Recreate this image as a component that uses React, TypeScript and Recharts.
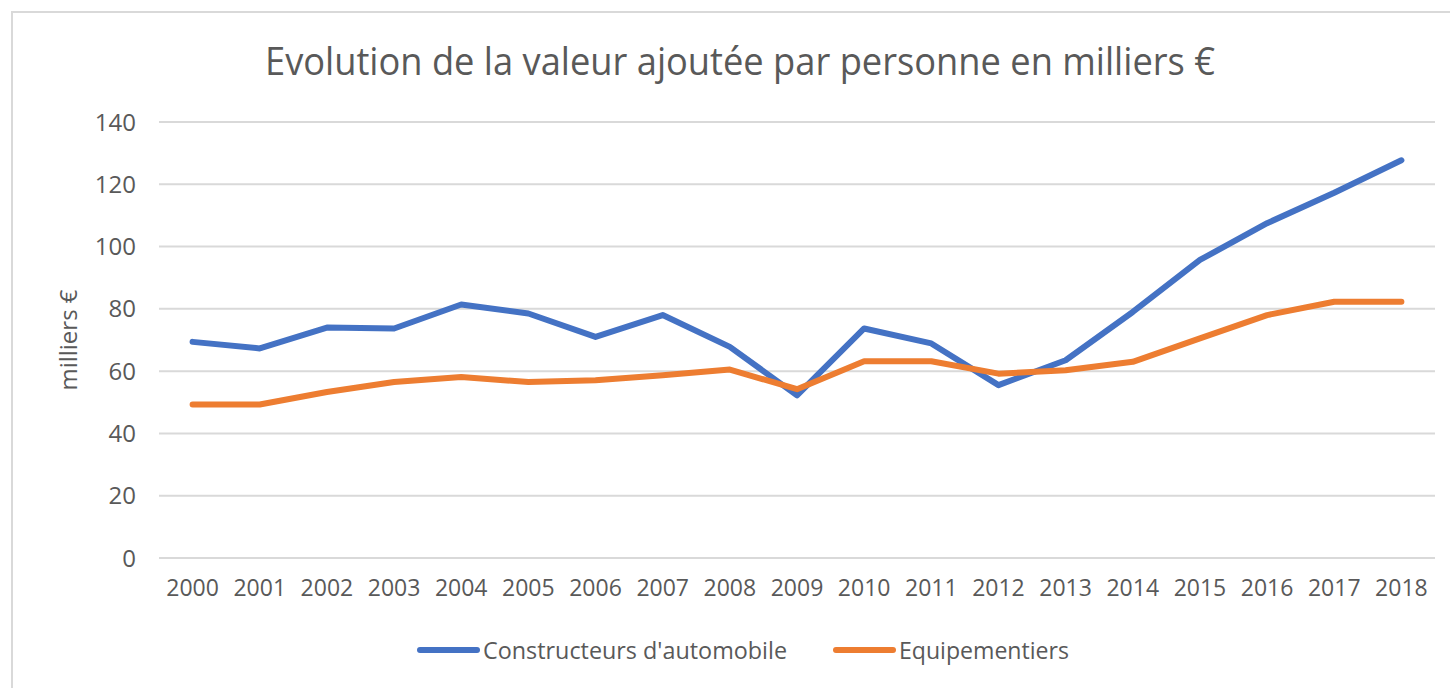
import React from 'react'
import {
  LineChart,
  Line,
  XAxis,
  YAxis,
  CartesianGrid,
  Legend,
} from 'recharts'

const years = [
  '2000', '2001', '2002', '2003', '2004', '2005', '2006', '2007', '2008', '2009',
  '2010', '2011', '2012', '2013', '2014', '2015', '2016', '2017', '2018',
]
// valeur ajoutée par personne, milliers €
const constructeurs = [
  69.4, 67.3, 74.0, 73.7, 81.4, 78.5, 71.0, 78.0, 67.8, 52.2,
  73.7, 68.9, 55.5, 63.5, 79.0, 95.7, 107.5, 117.3, 127.7,
]
const equipementiers = [
  49.3, 49.3, 53.3, 56.5, 58.1, 56.5, 57.1, 58.7, 60.5, 54.2,
  63.2, 63.2, 59.2, 60.3, 63.0, 70.5, 78.0, 82.3, 82.3,
]
const yTicks = [0, 20, 40, 60, 80, 100, 120, 140]

const seriesNames = ["Constructeurs d'automobile", 'Equipementiers']
const seriesColors = ['#4472C4', '#ED7D31']

const data = years.map((year, i) => ({
  year,
  constructeurs: constructeurs[i],
  equipementiers: equipementiers[i],
}))

const FONT = '"Open Sans", sans-serif'
const TEXT = '#595959'

// legend drawn by hand so it looks like the Excel one
function renderLegend(props: any) {
  const payload = props.payload || []
  const textWidths = [304, 170]
  return (
    <svg width={1450} height={40} style={{ display: 'block' }}>
      {payload.map((entry: any, i: number) => {
        const x0 = 417 + i * 416
        return (
          <g key={entry.value}>
            <line
              x1={x0 + 3}
              x2={x0 + 60}
              y1={20}
              y2={20}
              stroke={entry.color}
              strokeWidth={6}
              strokeLinecap="round"
            />
            <text
              x={x0 + 66}
              y={29}
              fontFamily={FONT}
              fontSize={24}
              fill={TEXT}
              textLength={textWidths[i]}
              lengthAdjust="spacingAndGlyphs"
            >
              {entry.value}
            </text>
          </g>
        )
      })}
    </svg>
  )
}

export default function App() {
  return (
    <div
      style={{
        position: 'absolute',
        left: 0,
        top: 0,
        width: 1450,
        height: 688,
        background: '#fff',
        overflow: 'hidden',
      }}
    >
      {/* chart frame, right and bottom edges fall off the picture */}
      <div
        style={{
          position: 'absolute',
          left: 11,
          top: 11,
          width: 1460,
          height: 700,
          border: '2px solid #d9d9d9',
          boxSizing: 'border-box',
        }}
      />
      <svg
        width={1450}
        height={688}
        style={{ position: 'absolute', left: 0, top: 0, pointerEvents: 'none' }}
      >
        <text
          x={265}
          y={75}
          fontFamily={FONT}
          fontSize={38}
          fill={TEXT}
          textLength={950}
          lengthAdjust="spacingAndGlyphs"
        >
          Evolution de la valeur ajoutée par personne en milliers €
        </text>
        <text
          x={77}
          y={340}
          transform="rotate(-90 77 340)"
          textAnchor="middle"
          fontFamily={FONT}
          fontSize={24}
          fill={TEXT}
        >
          milliers €
        </text>
      </svg>
      <div style={{ position: 'absolute', left: 0, top: 0 }}>
        <LineChart
          width={1450}
          height={688}
          data={data}
          // the legend still reserves ~31px under the plot, so bottom is trimmed
          margin={{ top: 122, right: 15, bottom: 100, left: 99 }}
        >
          <CartesianGrid vertical={false} stroke="#d9d9d9" strokeWidth={2} />
          <XAxis
            dataKey="year"
            axisLine={false}
            tickLine={false}
            tickMargin={16}
            interval={0}
            padding={{ left: 33.6, right: 33.6 }}
            tick={{ fill: TEXT, fontSize: 23, fontFamily: FONT }}
          />
          <YAxis
            width={60}
            domain={[0, 140]}
            ticks={yTicks}
            axisLine={false}
            tickLine={false}
            tickMargin={17}
            tick={{ fill: TEXT, fontSize: 24, fontFamily: FONT }}
          />
          <Legend
            content={renderLegend}
            wrapperStyle={{
              position: 'absolute',
              left: 0,
              top: 630,
              width: 1450,
              height: 0,
              overflow: 'visible',
            }}
          />
          <Line
            type="linear"
            dataKey="constructeurs"
            name={seriesNames[0]}
            stroke={seriesColors[0]}
            strokeWidth={6}
            strokeLinecap="round"
            strokeLinejoin="round"
            dot={false}
            activeDot={false}
            isAnimationActive={false}
          />
          <Line
            type="linear"
            dataKey="equipementiers"
            name={seriesNames[1]}
            stroke={seriesColors[1]}
            strokeWidth={6}
            strokeLinecap="round"
            strokeLinejoin="round"
            dot={false}
            activeDot={false}
            isAnimationActive={false}
          />
        </LineChart>
      </div>
    </div>
  )
}
